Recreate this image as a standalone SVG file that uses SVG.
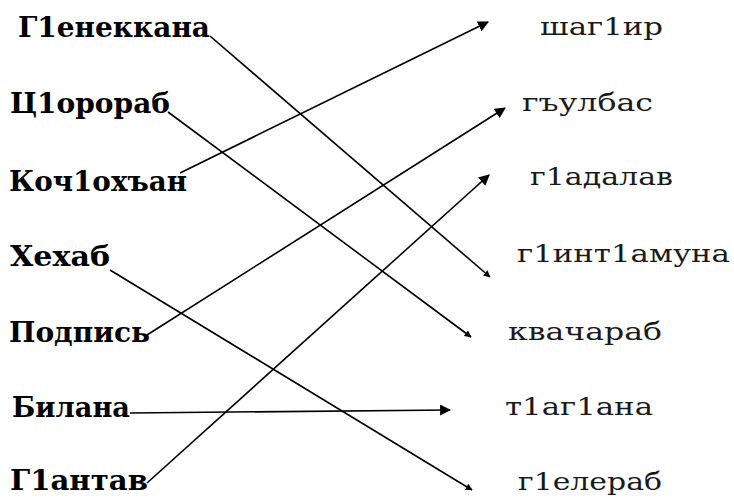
<svg xmlns="http://www.w3.org/2000/svg" width="734" height="499" viewBox="0 0 734 499">
<style>
.l{font-family:"DejaVu Serif","Liberation Serif",serif;font-weight:bold;font-size:28px;fill:#000}
.r{font-family:"DejaVu Serif","Liberation Serif",serif;font-size:25px;fill:#1a1a1a}
.c{stroke:#000;stroke-width:1.6;fill:none}
</style>
<defs>
<marker id="ah" viewBox="0 0 10 10" refX="9" refY="5" markerWidth="7" markerHeight="7" orient="auto" markerUnits="userSpaceOnUse">
<path d="M0,0 L10,5 L0,10 z" fill="#000"/>
</marker>
<marker id="ah2" viewBox="0 0 10 10" refX="9" refY="5" markerWidth="11" markerHeight="11" orient="auto" markerUnits="userSpaceOnUse">
<path d="M0,0 L10,5 L0,10 z" fill="#000"/>
</marker>
</defs>
<g id="left-nodes">
<g id="n-l1"><text class="l" x="18" y="37" textLength="192" lengthAdjust="spacingAndGlyphs">Г1енеккана</text></g>
<g id="n-l2"><text class="l" x="10" y="113" textLength="160" lengthAdjust="spacingAndGlyphs">Ц1орораб</text></g>
<g id="n-l3"><text class="l" x="9" y="191" textLength="178" lengthAdjust="spacingAndGlyphs">Коч1охъан</text></g>
<g id="n-l4"><text class="l" x="10" y="266" textLength="100" lengthAdjust="spacingAndGlyphs">Хехаб</text></g>
<g id="n-l5"><text class="l" x="9" y="342" textLength="141" lengthAdjust="spacingAndGlyphs">Подпись</text></g>
<g id="n-l6"><text class="l" x="12" y="417" textLength="118" lengthAdjust="spacingAndGlyphs">Билана</text></g>
<g id="n-l7"><text class="l" x="10" y="490" textLength="138" lengthAdjust="spacingAndGlyphs">Г1антав</text></g>
</g>
<g id="right-nodes">
<g id="n-r1"><text class="r" x="540" y="35" textLength="123" lengthAdjust="spacingAndGlyphs">шаг1ир</text></g>
<g id="n-r2"><text class="r" x="522" y="111" textLength="131" lengthAdjust="spacingAndGlyphs">гъулбас</text></g>
<g id="n-r3"><text class="r" x="530" y="185" textLength="143" lengthAdjust="spacingAndGlyphs">г1адалав</text></g>
<g id="n-r4"><text class="r" x="517" y="262" textLength="213" lengthAdjust="spacingAndGlyphs">г1инт1амуна</text></g>
<g id="n-r5"><text class="r" x="508" y="340" textLength="154" lengthAdjust="spacingAndGlyphs">квачараб</text></g>
<g id="n-r6"><text class="r" x="505" y="415" textLength="148" lengthAdjust="spacingAndGlyphs">т1аг1ана</text></g>
<g id="n-r7"><text class="r" x="518" y="490" textLength="144" lengthAdjust="spacingAndGlyphs">г1елераб</text></g>
</g>
<g id="connectors">
<line class="c" x1="210" y1="36" x2="490" y2="277" marker-end="url(#ah)"/>
<line class="c" x1="168" y1="112" x2="471" y2="337" marker-end="url(#ah)"/>
<line class="c" x1="180" y1="173" x2="488" y2="22" marker-end="url(#ah2)"/>
<line class="c" x1="110" y1="270" x2="472" y2="490" marker-end="url(#ah)"/>
<line class="c" x1="147" y1="335" x2="505" y2="108" marker-end="url(#ah2)"/>
<line class="c" x1="130" y1="413" x2="450" y2="410" marker-end="url(#ah2)"/>
<line class="c" x1="147" y1="483" x2="489" y2="175" marker-end="url(#ah2)"/>
</g>
</svg>
